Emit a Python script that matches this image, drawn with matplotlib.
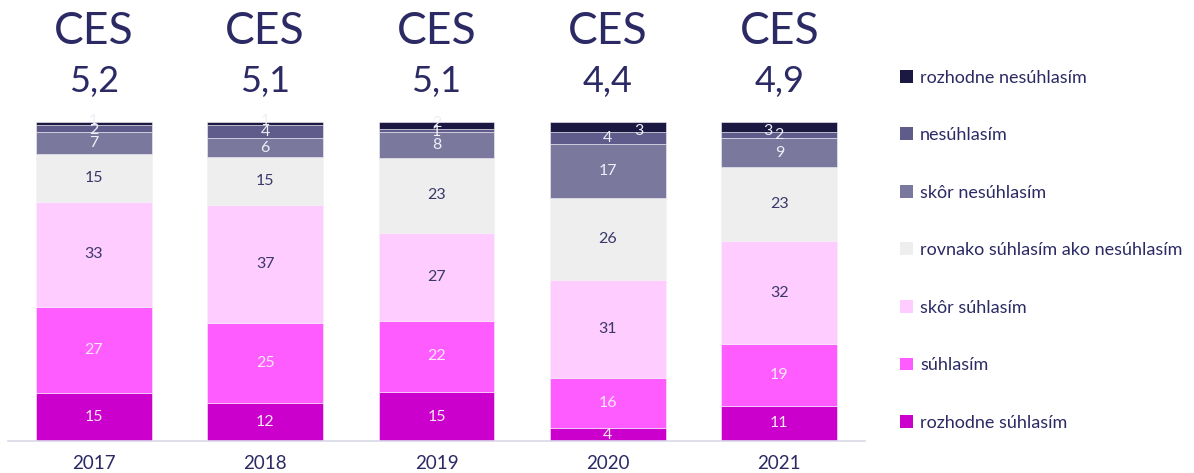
import numpy as np
import matplotlib.pyplot as plt
from matplotlib.patches import Patch

plt.rcParams['font.family'] = ['Lato', 'DejaVu Sans']

years = ['2017', '2018', '2019', '2020', '2021']
ces_values = ['5,2', '5,1', '5,1', '4,4', '4,9']
category_names = ['rozhodne súhlasím', 'súhlasím', 'skôr súhlasím',
                  'rovnako súhlasím ako nesúhlasím', 'skôr nesúhlasím',
                  'nesúhlasím', 'rozhodne nesúhlasím']
# one list per category, values for 2017..2021
rozhodne_suhlasim = [15, 12, 15, 4, 11]
suhlasim = [27, 25, 22, 16, 19]
skor_suhlasim = [33, 37, 27, 31, 32]
rovnako = [15, 15, 23, 26, 23]
skor_nesuhlasim = [7, 6, 8, 17, 9]
nesuhlasim = [2, 4, 1, 4, 2]
rozhodne_nesuhlasim = [1, 1, 2, 3, 3]

colors = ['#cc00cc', '#ff5cff', '#ffccff', '#eeeeee', '#7b789e', '#5f5b8b', '#1b1941']
text_colors = ['#f6e6f6', '#fbe8fb', '#3a386a', '#3a386a', '#eeeef6', '#eeeef6', '#eeeef6']
navy = '#2b2a64'

data = np.array([rozhodne_suhlasim, suhlasim, skor_suhlasim, rovnako,
                 skor_nesuhlasim, nesuhlasim, rozhodne_nesuhlasim], dtype=float)
# bars are drawn as shares of the total, so each one fills to the top
shares = data / data.sum(axis=0) * 100

fig = plt.figure(figsize=(11.94, 4.73), dpi=100)
ax = fig.add_axes([0.0067, 0.0677, 0.7178, 0.6743])

x = np.arange(len(years))
# small label nudges (in points) where labels crowd at the top
nudge = {(0, 6): (0, 2), (1, 6): (0, 2), (2, 6): (0, 2),
         (0, 5): (0, -1.5), (2, 5): (0, -1.5),
         (3, 6): (22, -3), (4, 6): (-8, -3)}

bottom = np.zeros(len(years))
for i, (name, color) in enumerate(zip(category_names, colors)):
    h = shares[i]
    ax.bar(x, h, bottom=bottom, width=0.675, color=color, label=name,
           edgecolor='#f4f0f8', linewidth=0.4)
    centers = bottom + h / 2
    for j, (cx, cy) in enumerate(zip(x, centers)):
        dx, dy = nudge.get((j, i), (0, 0))
        ax.annotate(str(int(data[i, j])), (cx, cy), xytext=(dx, dy),
                    textcoords='offset points', ha='center', va='center',
                    fontsize=11.5, color=text_colors[i])
    bottom = bottom + h

ax.set_xlim(-0.5, len(years) - 0.5)
ax.set_ylim(0, 100)
for s in ['top', 'right', 'left']:
    ax.spines[s].set_visible(False)
ax.spines['bottom'].set_color('#d9d9e8')
ax.spines['bottom'].set_linewidth(1.2)
ax.set_yticks([])
ax.set_xticks(x)
ax.set_xticklabels(years, fontsize=13.5, color=navy)
ax.tick_params(axis='x', length=0, pad=10)

# CES header above each bar
for xi, v in zip(x, ces_values):
    ax.annotate('CES', (xi, 100), xytext=(0, 65), textcoords='offset points',
                ha='center', va='center', fontsize=32, color=navy,
                annotation_clip=False)
    ax.annotate(v, (xi, 100), xytext=(0, 29.5), textcoords='offset points',
                ha='center', va='center', fontsize=26, color=navy,
                annotation_clip=False)

handles = [Patch(facecolor=c, label=n) for n, c in zip(category_names, colors)][::-1]
fig.legend(handles=handles, loc='upper left', bbox_to_anchor=(0.754, 0.853),
           frameon=False, fontsize=13, labelcolor=navy,
           handlelength=0.7, handleheight=0.7, handletextpad=0.4,
           labelspacing=2.3, borderpad=0, borderaxespad=0)

fig.savefig('out.png', dpi=100)
